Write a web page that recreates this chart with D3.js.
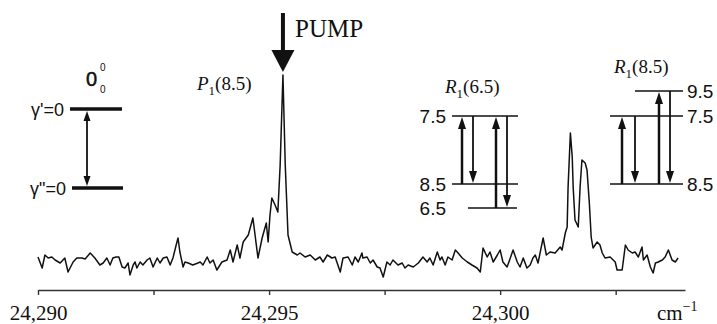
<!DOCTYPE html>
<html>
<head>
<meta charset="utf-8">
<script src="https://cdn.jsdelivr.net/npm/d3@7"></script>
<style>
  body { margin: 0; background: #fff; }
  svg { display: block; }
</style>
</head>
<body>
<svg id="chart"></svg>
<script>
// wavenumber offsets above nu0 (cm-1) and signal (arb. units)
const nu0 = 24290;
const shift = [0.00,0.09,0.15,0.22,0.30,0.37,0.48,0.58,0.65,0.76,0.84,0.95,1.02,1.13,1.23,1.34,1.41,1.49,1.56,1.62,
  1.69,1.75,1.82,1.88,1.95,1.99,2.06,2.10,2.14,2.21,2.27,2.36,2.42,2.49,2.58,2.64,2.71,2.79,2.86,2.92,
  2.99,3.03,3.07,3.14,3.18,3.25,3.35,3.46,3.51,3.57,3.66,3.72,3.79,3.87,3.98,4.09,4.16,4.22,4.31,4.37,
  4.44,4.55,4.65,4.76,4.85,4.94,4.98,5.02,5.06,5.13,5.19,5.24,5.30,5.35,5.41,5.50,5.61,5.67,5.78,5.89,
  6.00,6.10,6.17,6.26,6.36,6.43,6.54,6.60,6.71,6.80,6.86,6.93,7.01,7.03,7.12,7.19,7.25,7.34,7.40,7.47,
  7.55,7.62,7.68,7.79,7.88,7.94,8.01,8.12,8.23,8.33,8.42,8.48,8.55,8.64,8.70,8.74,8.81,8.87,8.96,9.03,
  9.09,9.18,9.29,9.39,9.50,9.57,9.63,9.72,9.78,9.85,9.94,10.00,10.06,10.15,10.22,10.28,10.37,10.43,10.50,10.58,
  10.65,10.71,10.76,10.82,10.93,11.00,11.08,11.19,11.30,11.34,11.41,11.45,11.47,11.52,11.56,11.58,11.62,11.69,11.73,11.77,
  11.84,11.88,11.93,11.97,12.01,12.10,12.16,12.21,12.27,12.38,12.49,12.53,12.64,12.71,12.77,12.86,12.92,12.99,13.07,13.10,
  13.18,13.25,13.31,13.36,13.42,13.51,13.57,13.64,13.72,13.79,13.85];
const signal = [18,7,20,17,18,15,12,17,3,13,17,17,16,22,17,10,12,17,10,17,
  18,18,8,7,12,0,10,13,7,13,10,15,17,8,17,12,17,18,10,17,
  30,37,23,8,13,12,10,12,13,10,18,12,15,5,13,15,25,13,30,17,
  33,40,57,17,37,52,33,60,77,70,63,110,200,110,40,23,20,22,18,20,
  15,18,13,20,17,18,3,17,18,10,18,13,22,17,18,12,15,8,7,-2,
  13,10,15,10,12,7,10,8,12,18,13,17,10,23,15,18,10,18,15,25,
  22,17,13,10,7,3,27,18,23,13,20,25,13,8,17,25,13,8,17,7,
  10,17,20,12,37,20,23,22,28,25,42,48,88,142,118,88,55,48,88,115,
  112,105,72,38,27,33,30,22,17,18,13,5,5,30,25,22,23,18,28,15,
  20,8,2,12,13,15,18,25,15,13,17];

const majorTicks = [24290, 24295, 24300];
const minorTicks = [24292.5, 24297.5, 24302.5];
const tickLabels = ["24,290", "24,295", "24,300"];

const W = 717, H = 324;
const serif = "'Liberation Serif', 'Times New Roman', serif";
const sans = "'Liberation Sans', Arial, sans-serif";

const svg = d3.select("#chart").attr("width", W).attr("height", H);
svg.append("rect").attr("width", W).attr("height", H).attr("fill", "#fff");

const x = d3.scaleLinear().domain([24290, 24304]).range([38, 685]);
const y = d3.scaleLinear().domain([0, 200]).range([275, 75]);

// axis
const allTicks = majorTicks.concat(minorTicks).sort(d3.ascending);
const axis = svg.append("g")
  .attr("transform", "translate(0,290)")
  .call(d3.axisBottom(x)
    .tickValues(allTicks)
    .tickSize(5)
    .tickSizeOuter(0)
    .tickFormat(d => {
      const i = majorTicks.indexOf(d);
      return i < 0 ? "" : tickLabels[i];
    }));
axis.select(".domain").attr("stroke", "#333").attr("stroke-width", 1.6);
axis.selectAll(".tick line").attr("stroke", "#333").attr("stroke-width", 1.4);
axis.selectAll(".tick text")
  .attr("y", 30).attr("dy", 0)
  .attr("fill", "#111")
  .style("font-family", serif).style("font-size", "21px");

const unit = svg.append("text")
  .attr("x", 657).attr("y", 320)
  .attr("fill", "#111")
  .style("font-family", serif).style("font-size", "21px");
unit.append("tspan").text("cm");
unit.append("tspan").attr("dy", -9).style("font-size", "14px").text("−1");

// spectrum
const pts = shift.map((s, i) => [nu0 + s, signal[i]]);
svg.append("path")
  .datum(pts)
  .attr("fill", "none")
  .attr("stroke", "#111")
  .attr("stroke-width", 1.5)
  .attr("stroke-linejoin", "round")
  .attr("d", d3.line().x(d => x(d[0])).y(d => y(d[1])));

// helpers
function vArrow(g, ax, yFrom, yTo, sw, hw, hl) {
  const dir = yTo > yFrom ? 1 : -1;
  g.append("line")
    .attr("x1", ax).attr("x2", ax)
    .attr("y1", yFrom).attr("y2", yTo - dir * hl * 0.6)
    .attr("stroke", "#111").attr("stroke-width", sw);
  g.append("path")
    .attr("d", `M${ax - hw / 2},${yTo - dir * hl}L${ax + hw / 2},${yTo - dir * hl}L${ax},${yTo}Z`)
    .attr("fill", "#111");
}
function hLevel(g, x1, x2, ly, sw) {
  g.append("line").attr("x1", x1).attr("x2", x2).attr("y1", ly).attr("y2", ly)
    .attr("stroke", "#111").attr("stroke-width", sw);
}
function sansLabel(g, tx, ty, txt, anchor, size) {
  g.append("text").attr("x", tx).attr("y", ty).attr("dy", "0.36em")
    .attr("text-anchor", anchor || "end")
    .attr("fill", "#111")
    .style("font-family", sans).style("font-size", (size || 19) + "px")
    .text(txt);
}
function branchLabel(g, tx, ty, letter, j) {
  const t = g.append("text").attr("x", tx).attr("y", ty)
    .attr("fill", "#111")
    .style("font-family", serif).style("font-size", "19px");
  t.append("tspan").style("font-style", "italic").text(letter);
  t.append("tspan").attr("dy", 5).style("font-size", "13px").text("1");
  t.append("tspan").attr("dy", -5).text(j);
}

// pump arrow
const pump = svg.append("g");
vArrow(pump, x(24295.3), 13, 72, 4, 23, 22);
pump.append("text").attr("x", 295).attr("y", 37)
  .attr("fill", "#111")
  .style("font-family", serif).style("font-size", "25px")
  .text("PUMP");
branchLabel(svg, 197, 90, "P", "(8.5)");

// 0-0 diagram
const d0 = svg.append("g");
hLevel(d0, 70, 122, 109, 3.5);
hLevel(d0, 72, 123, 188, 3.5);
vArrow(d0, 87, 150, 111, 1.8, 7, 10);
vArrow(d0, 87, 150, 186, 1.8, 7, 10);
sansLabel(d0, 64, 110, "γ'=0", "end", 18);
sansLabel(d0, 66, 189, "γ\"=0", "end", 18);
const oo = d0.append("text").attr("x", 86).attr("y", 86)
  .attr("fill", "#111")
  .style("font-family", sans).style("font-size", "20px")
  .attr("stroke", "#111").attr("stroke-width", 0.5);
oo.append("tspan").text("0");
oo.append("tspan").attr("x", 100).attr("y", 71).style("font-size", "10px").attr("stroke-width", 0).text("0");
oo.append("tspan").attr("x", 100).attr("y", 93).style("font-size", "10px").attr("stroke-width", 0).text("0");

// R1(6.5)
const r1 = svg.append("g");
branchLabel(r1, 445, 93, "R", "(6.5)");
hLevel(r1, 452, 518, 116, 1.6);
hLevel(r1, 452, 518, 184, 1.6);
hLevel(r1, 468, 517, 208, 1.6);
sansLabel(r1, 446, 116, "7.5");
sansLabel(r1, 446, 184, "8.5");
sansLabel(r1, 446, 208, "6.5");
vArrow(r1, 462, 184, 117, 2.5, 8, 12);
vArrow(r1, 473, 116, 183, 1.8, 8, 12);
vArrow(r1, 496, 208, 117, 2.5, 8, 12);
vArrow(r1, 507, 116, 207, 1.8, 8, 12);

// R1(8.5)
const r2 = svg.append("g");
branchLabel(r2, 614, 73, "R", "(8.5)");
hLevel(r2, 635, 683, 91, 1.6);
hLevel(r2, 610, 683, 116, 1.6);
hLevel(r2, 610, 683, 184, 1.6);
sansLabel(r2, 687, 91, "9.5", "start");
sansLabel(r2, 687, 116, "7.5", "start");
sansLabel(r2, 687, 184, "8.5", "start");
vArrow(r2, 622, 184, 117, 2.5, 8, 12);
vArrow(r2, 635, 116, 183, 1.8, 8, 12);
vArrow(r2, 659, 184, 92, 2.5, 8, 12);
vArrow(r2, 670, 91, 183, 1.8, 8, 12);
</script>
</body>
</html>
